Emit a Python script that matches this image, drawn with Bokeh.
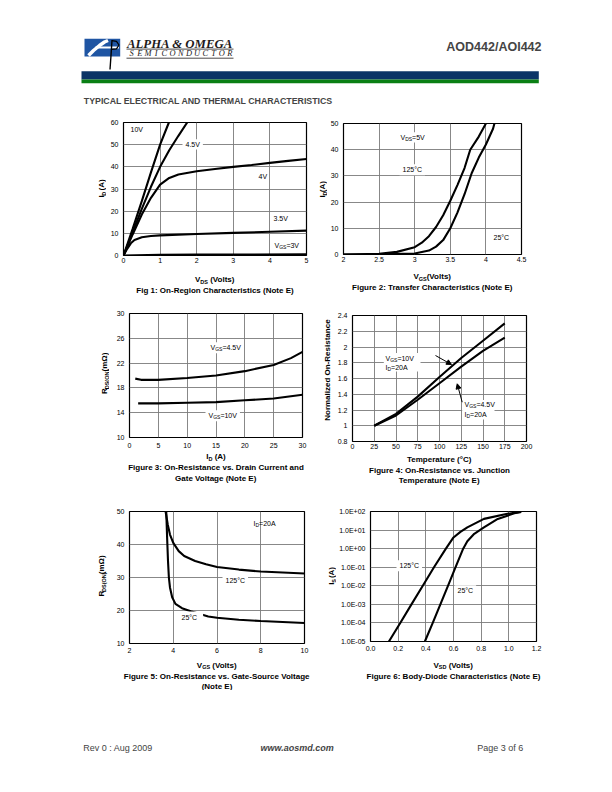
import numpy as np
from bokeh.plotting import figure
from bokeh.models import (Range1d, Label, FixedTicker, BoxAnnotation, Arrow, NormalHead,
                          CustomJSTickFormatter)
from bokeh.layouts import column, row
from bokeh.embed import file_html
from bokeh.resources import INLINE

FONT = "Liberation Sans"
SERIF = "Liberation Serif"

# ---------------- data ----------------
# Fig 1: On-region characteristics
f1_xticks = [0, 1, 2, 3, 4, 5]
f1_xlabels = ["0", "1", "2", "3", "4", "5"]
f1_yticks = [0, 10, 20, 30, 40, 50, 60]
f1_ylabels = ["0", "10", "20", "30", "40", "50", "60"]
f1_vds_10v = [0, 0.25, 0.5, 0.75, 1.0, 1.24]
f1_id_10v = [0, 12, 24.5, 37.5, 50, 60]
f1_vds_45v = [0, 0.25, 0.5, 0.75, 1.0, 1.25, 1.5, 1.74]
f1_id_45v = [0, 10.5, 21, 31, 40, 47.5, 54, 60]
f1_vds_4v = [0, 0.25, 0.5, 0.75, 1.0, 1.25, 1.5, 2.0, 2.5, 3.0, 3.5, 4.0, 4.5, 5.0]
f1_id_4v = [0, 9.5, 18.5, 26, 32, 35, 36.5, 38, 39, 40, 40.8, 41.8, 42.7, 43.5]
f1_vds_35v = [0, 0.1, 0.2, 0.3, 0.5, 0.75, 1.0, 2.0, 3.0, 4.0, 5.0]
f1_id_35v = [0, 3, 5.5, 7, 8.2, 8.8, 9.1, 9.7, 10.2, 10.7, 11.2]
f1_vds_3v = [0, 1.0, 2.0, 5.0]
f1_id_3v = [0, 0.3, 0.4, 0.5]

# Fig 2: Transfer characteristics
f2_xticks = [2, 2.5, 3, 3.5, 4, 4.5]
f2_xlabels = ["2", "2.5", "3", "3.5", "4", "4.5"]
f2_yticks = [0, 10, 20, 30, 40, 50]
f2_ylabels = ["0", "10", "20", "30", "40", "50"]
f2_vgs_125 = [2.0, 2.5, 2.75, 3.0, 3.1, 3.2, 3.3, 3.4, 3.5, 3.6, 3.7, 3.78, 3.9, 4.0]
f2_id_125 = [0, 0.3, 1.0, 2.8, 4.5, 7, 10.5, 15, 20.5, 26.5, 33, 40, 45, 50]
f2_vgs_25 = [2.0, 2.5, 3.0, 3.2, 3.3, 3.4, 3.5, 3.6, 3.7, 3.8, 3.9, 4.0, 4.1, 4.12]
f2_id_25 = [0, 0.05, 0.4, 1.5, 3, 5.5, 10, 16, 23, 31, 37, 42, 48, 50]

# Fig 3: On-resistance vs drain current
f3_xticks = [0, 5, 10, 15, 20, 25, 30]
f3_xlabels = ["0", "5", "10", "15", "20", "25", "30"]
f3_yticks = [10, 14, 18, 22, 26, 30]
f3_ylabels = ["10", "14", "18", "22", "26", "30"]
f3_id_45v = [1, 2, 5, 10, 15, 20, 25, 28, 30]
f3_r_45v = [19.5, 19.3, 19.3, 19.6, 20.0, 20.7, 21.7, 22.8, 23.8]
f3_id_10v = [1.5, 5, 10, 15, 20, 25, 30]
f3_r_10v = [15.5, 15.5, 15.6, 15.7, 16.0, 16.3, 16.9]

# Fig 4: Normalized on-resistance vs junction temperature
f4_xticks = [0, 25, 50, 75, 100, 125, 150, 175, 200]
f4_xlabels = ["0", "25", "50", "75", "100", "125", "150", "175", "200"]
f4_yticks = [0.8, 1.0, 1.2, 1.4, 1.6, 1.8, 2.0, 2.2, 2.4]
f4_ylabels = ["0.8", "1", "1.2", "1.4", "1.6", "1.8", "2", "2.2", "2.4"]
f4_temp = [25, 50, 75, 100, 125, 150, 175]
f4_r_10v = [1.0, 1.15, 1.37, 1.62, 1.86, 2.08, 2.3]
f4_r_45v = [1.0, 1.13, 1.33, 1.54, 1.75, 1.95, 2.12]

# Fig 5: On-resistance vs gate-source voltage
f5_xticks = [2, 4, 6, 8, 10]
f5_xlabels = ["2", "4", "6", "8", "10"]
f5_yticks = [10, 20, 30, 40, 50]
f5_ylabels = ["10", "20", "30", "40", "50"]
f5_vgs_125 = [3.65, 3.75, 3.85, 4.0, 4.25, 4.5, 5.0, 5.5, 6.0, 7.0, 8.0, 9.0, 10.0]
f5_r_125 = [50, 46, 43, 40.5, 38, 36.5, 35, 34, 33.2, 32.4, 31.8, 31.5, 31.2]
f5_vgs_25 = [3.68, 3.72, 3.76, 3.8, 3.85, 3.95, 4.1, 4.4, 4.8, 5.6, 6.0, 7.0, 8.0, 9.0, 10.0]
f5_r_25 = [50, 42, 35, 30, 27, 24, 22, 20.7, 19.8, 18.2, 17.8, 17.2, 16.8, 16.5, 16.2]

# Fig 6: Body-diode characteristics
f6_xticks = [0, 0.2, 0.4, 0.6, 0.8, 1.0, 1.2]
f6_xlabels = ["0.0", "0.2", "0.4", "0.6", "0.8", "1.0", "1.2"]
f6_yticks = [1e-5, 1e-4, 1e-3, 1e-2, 1e-1, 1e0, 1e1, 1e2]
f6_ylabels = ["1.0E-05", "1.0E-04", "1.0E-03", "1.0E-02", "1.0E-01", "1.0E+00", "1.0E+01", "1.0E+02"]
f6_vsd_125 = [0.133, 0.215, 0.296, 0.378, 0.459, 0.545, 0.60, 0.65, 0.70, 0.82, 0.99, 1.08]
f6_is_125 = [1e-5, 1e-4, 1e-3, 1e-2, 1e-1, 1.0, 4.0, 8.0, 14, 40, 75, 95]
f6_vsd_25 = [0.393, 0.45, 0.505, 0.56, 0.615, 0.67, 0.70, 0.75, 0.82, 0.92, 1.04, 1.09]
f6_is_25 = [1e-5, 1e-4, 1e-3, 1e-2, 1e-1, 1.0, 2.5, 6.3, 14, 40, 80, 95]

# ---------------- text metrics (Arial / Liberation Sans) ----------------
REG_W = {' ': 278, '(': 333, ')': 333, '+': 584, '-': 333, '.': 278, '=': 584, '/': 278, ':': 278,
         '°': 400, 'Ω': 768, 'A': 667, 'B': 667, 'C': 722, 'D': 722, 'E': 667, 'F': 611, 'G': 778,
         'I': 278, 'N': 722, 'O': 778, 'R': 722, 'S': 667, 'T': 611, 'V': 667,
         'a': 556, 'c': 500, 'd': 556, 'e': 556, 'f': 278, 'g': 556, 'h': 556, 'i': 222, 'k': 500,
         'l': 222, 'm': 833, 'n': 556, 'o': 556, 'p': 556, 'r': 333, 's': 500, 't': 278, 'u': 556,
         'v': 500, 'w': 722, 'y': 500, 'z': 500}
BOLD_W = {' ': 278, '(': 333, ')': 333, '-': 333, '.': 278, '=': 584, ':': 333, '°': 400, 'Ω': 768,
          'A': 722, 'B': 722, 'C': 722, 'D': 722, 'E': 667, 'F': 611, 'G': 778, 'I': 278, 'J': 556,
          'N': 722, 'O': 778, 'R': 722, 'S': 667, 'T': 611, 'V': 667,
          'a': 556, 'c': 556, 'd': 611, 'e': 556, 'f': 333, 'g': 611, 'h': 611, 'i': 278, 'k': 556,
          'l': 278, 'm': 889, 'n': 611, 'o': 611, 'p': 611, 'r': 389, 's': 556, 't': 333, 'u': 611,
          'v': 556, 'y': 556, 'z': 500}


def text_width(s, size, bold):
    tab = BOLD_W if bold else REG_W
    return sum(tab.get(ch, 556) for ch in s) * size / 1000.0


def ident(px, py):
    return float(px), float(py)


def white_box(p, conv, x0, y0, x1, y1):
    """White rectangle given in page pixels (used to clear grid behind a label)."""
    l, b = conv(x0, y1)
    r, t = conv(x1, y0)
    p.add_layout(BoxAnnotation(left=l, right=r, bottom=b, top=t, fill_color="white",
                               fill_alpha=1, line_color=None, line_alpha=0))


def rich(p, conv, px, py, pieces, bold=False, align="center", vertical=False, bg_pad=None):
    """Place text pieces (text, size, dy) at page position px, py (middle line)."""
    widths = [text_width(t, s, bold) for t, s, d in pieces]
    total = sum(widths)
    start = {"center": -total / 2.0, "left": 0.0, "right": -total}[align]
    if bg_pad is not None and not vertical:
        hmax = max(s for t, s, d in pieces)
        padx, pady = bg_pad
        white_box(p, conv, px + start - padx, py - 0.55 * hmax - pady,
                  px + start + total + padx, py + 0.6 * hmax + pady)
    pos = start
    for (t, s, d), w in zip(pieces, widths):
        lead = len(t) - len(t.lstrip(' '))
        off = text_width(' ' * lead, s, bold)
        txt = t.strip(' ')
        if vertical:
            x, y = conv(px + d, py - pos - off)
        else:
            x, y = conv(px + pos + off, py + d)
        lab = Label(x=x, y=y, text=txt, text_font=FONT, text_font_size=f"{s}px",
                    text_font_style="bold" if bold else "normal", text_align="left",
                    text_baseline="middle", angle=(np.pi / 2 if vertical else 0.0), text_color="black")
        p.add_layout(lab)
        pos += w


def textfig(x0, y0, x1, y1):
    """A blank figure whose data space is page pixels (y downward)."""
    f = figure(width=int(x1 - x0), height=int(y1 - y0), x_range=Range1d(x0, x1), y_range=Range1d(y1, y0),
               output_backend="svg", toolbar_location=None, title=None, min_border=0,
               x_axis_type=None, y_axis_type=None)
    f.outline_line_color = None
    f.background_fill_color = "white"
    f.border_fill_color = "white"
    return f


def tick_fmt(vals, labels):
    return CustomJSTickFormatter(args=dict(vals=list(vals), labels=list(labels)), code="""
        let best = 0, bd = Infinity;
        for (let i = 0; i < vals.length; i++) {
            const d = Math.abs(Math.log(Math.abs(vals[i]) + 1e-12) - Math.log(Math.abs(tick) + 1e-12)) + Math.abs(vals[i] - tick);
            if (d < bd) { bd = d; best = i; }
        }
        return labels[best];
    """)


def chart(box, frame, xr, yr, xt, xl, yt, yl, ylog=False, xstand=3, ystand=5):
    bx0, by0, bx1, by1 = box
    fx0, fy0, fx1, fy1 = frame
    p = figure(width=int(bx1 - bx0), height=int(by1 - by0), x_range=Range1d(*xr), y_range=Range1d(*yr),
               y_axis_type="log" if ylog else "linear", output_backend="svg",
               toolbar_location=None, title=None,
               min_border_left=int(fx0 - bx0), min_border_right=int(bx1 - fx1),
               min_border_top=int(fy0 - by0), min_border_bottom=int(by1 - fy1))
    p.background_fill_color = "white"
    p.border_fill_color = "white"
    p.outline_line_color = "black"
    p.outline_line_width = 1.2
    p.xaxis.ticker = FixedTicker(ticks=xt)
    p.yaxis.ticker = FixedTicker(ticks=yt)
    p.xgrid.ticker = FixedTicker(ticks=xt)
    p.ygrid.ticker = FixedTicker(ticks=yt)
    p.xaxis.formatter = tick_fmt(xt, xl)
    p.yaxis.formatter = tick_fmt(yt, yl)
    for ax in (p.xaxis, p.yaxis):
        ax.axis_line_color = None
        ax.major_tick_line_color = None
        ax.minor_tick_line_color = None
        ax.major_tick_out = 0
        ax.major_tick_in = 0
        ax.minor_tick_out = 0
        ax.minor_tick_in = 0
        ax.major_label_text_font = FONT
        ax.major_label_text_font_size = "7px"
        ax.major_label_text_color = "black"
    p.xaxis.major_label_standoff = xstand
    p.yaxis.major_label_standoff = ystand
    p.grid.grid_line_color = "#7a7a7a"
    p.grid.grid_line_width = 0.9
    p.grid.minor_grid_line_color = None

    def conv(px, py):
        x = xr[0] + (px - fx0) / (fx1 - fx0) * (xr[1] - xr[0])
        t = (fy1 - py) / (fy1 - fy0)
        if ylog:
            y = 10 ** (np.log10(yr[0]) + t * (np.log10(yr[1]) - np.log10(yr[0])))
        else:
            y = yr[0] + t * (yr[1] - yr[0])
        return float(x), float(y)
    return p, conv


LW = 2.1

# ---------------- header ----------------
hdr = textfig(0, 0, 612, 108)
hdr.quad(left=84, right=119.7, top=38.3, bottom=56, fill_color="#1f55a3", line_color=None)
hdr.line(x=[88, 93, 99, 104, 107.5], y=[55, 50, 45, 41.5, 40], line_color="white", line_width=3.5)
hdr.line(x=[95, 118.5], y=[47, 47], line_color="white", line_width=1.8)
hdr.line(x=[111.5, 110.5, 109.5], y=[39.5, 55, 69], line_color="black", line_width=1.4)
hdr.line(x=[111.5, 116, 118.5, 116, 111], y=[40.2, 40.8, 44.5, 48.3, 48.8], line_color="black", line_width=1.2)
hdr.add_layout(Label(x=126.5, y=43.0, text="ALPHA & OMEGA", text_font=SERIF, text_font_size="12.8px",
                     text_font_style="bold italic", text_color="#1e1a1a", text_baseline="middle"))
hdr.line(x=[126, 233], y=[48.6, 48.6], line_color="#1e1a1a", line_width=0.8)
semi = "SEMICONDUCTOR"
for i, ch in enumerate(semi):
    hdr.add_layout(Label(x=131 + i * 8.2, y=53.2, text=ch, text_font=SERIF, text_font_size="8.4px",
                         text_font_style="italic", text_color="#1e1a1a", text_align="center",
                         text_baseline="middle"))
hdr.line(x=[126, 233], y=[57.7, 57.7], line_color="#1e1a1a", line_width=0.8)
hdr.add_layout(Label(x=541, y=46, text="AOD442/AOI442", text_font=FONT, text_font_size="12.5px",
                     text_font_style="bold", text_align="right", text_baseline="middle"))
hdr.quad(left=81, right=538.3, top=70.7, bottom=79, fill_color="#0b3466", line_color=None)
hdr.quad(left=81, right=538.3, top=79, bottom=82.7, fill_color="#0a7f14", line_color=None)
hdr.add_layout(Label(x=83.3, y=100, text="TYPICAL ELECTRICAL AND THERMAL CHARACTERISTICS", text_font=FONT,
                     text_font_size="8.8px", text_font_style="bold", text_baseline="middle"))

# ---------------- Fig 1 ----------------
yl1 = textfig(0, 108, 106, 268)
p1, c1 = chart((106, 108, 316, 268), (123, 122, 306, 255), (0, 5), (0, 60),
               f1_xticks, f1_xlabels, f1_yticks, f1_ylabels, xstand=2)
cap1 = textfig(0, 268, 316, 300)
for xs, ys in [(f1_vds_10v, f1_id_10v), (f1_vds_45v, f1_id_45v), (f1_vds_4v, f1_id_4v),
               (f1_vds_35v, f1_id_35v), (f1_vds_3v, f1_id_3v)]:
    p1.line(xs, ys, line_color="black", line_width=LW)
rich(p1, c1, 130, 129, [("10V", 7, 0)], align="left")
rich(p1, c1, 185, 143.7, [("4.5V", 7, 0)], align="left", bg_pad=(3, 1))
rich(p1, c1, 258, 175.7, [("4V", 7, 0)], align="left")
rich(p1, c1, 273, 218, [("3.5V", 7, 0)], align="left")
rich(p1, c1, 274, 245, [("V", 7, 0), ("GS", 5, 1.8), ("=3V", 7, 0)], align="left")
rich(cap1, ident, 214.5, 279, [("V", 8, 0), ("DS", 5.5, 2), (" (Volts)", 8, 0)], bold=True)
rich(cap1, ident, 214.5, 290, [("Fig 1: On-Region Characteristics (Note E)", 8, 0)], bold=True)
rich(yl1, ident, 101, 188.5, [("I", 8, 0), ("D", 5.5, 2), (" (A)", 8, 0)], bold=True, vertical=True)

# ---------------- Fig 2 ----------------
yl2 = textfig(316, 108, 327, 266)
p2, c2 = chart((327, 108, 612, 266), (343, 123, 521, 254), (2, 4.5), (0, 50),
               f2_xticks, f2_xlabels, f2_yticks, f2_ylabels, xstand=2)
cap2 = textfig(316, 266, 612, 300)
p2.line(f2_vgs_125, f2_id_125, line_color="black", line_width=LW)
p2.line(f2_vgs_25, f2_id_25, line_color="black", line_width=LW)
rich(p2, c2, 400, 136.7, [("V", 7, 0), ("DS", 5, 1.8), ("=5V", 7, 0)], align="left", bg_pad=(2, 1))
rich(p2, c2, 402, 169, [("125°C", 7, 0)], align="left", bg_pad=(3, 1.5))
rich(p2, c2, 493, 236.7, [("25°C", 7, 0)], align="left", bg_pad=(3, 1.5))
rich(cap2, ident, 432, 276, [("V", 8, 0), ("GS", 5.5, 2), ("(Volts)", 8, 0)], bold=True)
rich(cap2, ident, 432, 287, [("Figure 2: Transfer Characteristics (Note E)", 8, 0)], bold=True)
rich(yl2, ident, 322, 188.5, [("I", 8, 0), ("D", 5.5, 2), ("(A)", 8, 0)], bold=True, vertical=True)

# ---------------- Fig 3 ----------------
yl3 = textfig(0, 300, 109, 451)
p3, c3 = chart((109, 300, 316, 451), (129, 313, 302, 437), (0, 30), (10, 30),
               f3_xticks, f3_xlabels, f3_yticks, f3_ylabels, xstand=5)
cap3 = textfig(0, 451, 316, 495)
p3.line(f3_id_45v, f3_r_45v, line_color="black", line_width=LW)
p3.line(f3_id_10v, f3_r_10v, line_color="black", line_width=LW)
rich(p3, c3, 210, 347, [("V", 7, 0), ("GS", 5, 1.8), ("=4.5V", 7, 0)], align="left", bg_pad=(3, 1.5))
rich(p3, c3, 208, 415, [("V", 7, 0), ("GS", 5, 1.8), ("=10V", 7, 0)], align="left", bg_pad=(3, 1.5))
rich(cap3, ident, 215.5, 456, [("I", 8, 0), ("D", 5.5, 2), (" (A)", 8, 0)], bold=True)
rich(cap3, ident, 215.5, 467, [("Figure 3: On-Resistance vs. Drain Current and", 8, 0)], bold=True)
rich(cap3, ident, 215.5, 477.5, [("Gate Voltage (Note E)", 8, 0)], bold=True)
rich(yl3, ident, 104, 375, [("R", 8, 0), ("DS(ON)", 5.5, 2), (" (mΩ)", 8, 0)], bold=True, vertical=True)

# ---------------- Fig 4 ----------------
yl4 = textfig(316, 300, 332, 454)
p4, c4 = chart((332, 300, 612, 454), (352, 315, 526, 441), (0, 200), (0.8, 2.4),
               f4_xticks, f4_xlabels, f4_yticks, f4_ylabels, xstand=2)
cap4 = textfig(316, 454, 612, 495)
p4.line(f4_temp, f4_r_10v, line_color="black", line_width=LW)
p4.line(f4_temp, f4_r_45v, line_color="black", line_width=LW)
white_box(p4, c4, 383.3, 352.5, 420, 371)
white_box(p4, c4, 461.7, 399.5, 494, 419)
rich(p4, c4, 385, 357.7, [("V", 7, 0), ("GS", 5, 1.8), ("=10V", 7, 0)], align="left")
rich(p4, c4, 385, 367, [("I", 7, 0), ("D", 5, 1.8), ("=20A", 7, 0)], align="left")
rich(p4, c4, 464, 404, [("V", 7, 0), ("GS", 5, 1.8), ("=4.5V", 7, 0)], align="left")
rich(p4, c4, 464, 414, [("I", 7, 0), ("D", 5, 1.8), ("=20A", 7, 0)], align="left")
ax0, ay0 = c4(435, 355)
ax1, ay1 = c4(451, 364)
p4.add_layout(Arrow(end=NormalHead(size=5, fill_color="black", line_color="black"),
                    x_start=ax0, y_start=ay0, x_end=ax1, y_end=ay1, line_width=1))
ax0, ay0 = c4(461.7, 401.7)
ax1, ay1 = c4(456.7, 383.3)
p4.add_layout(Arrow(end=NormalHead(size=5, fill_color="black", line_color="black"),
                    x_start=ax0, y_start=ay0, x_end=ax1, y_end=ay1, line_width=1))
rich(cap4, ident, 439, 459, [("Temperature (°C)", 8, 0)], bold=True)
rich(cap4, ident, 439, 469.5, [("Figure 4: On-Resistance vs. Junction", 8, 0)], bold=True)
rich(cap4, ident, 439, 480, [("Temperature (Note E)", 8, 0)], bold=True)
rich(yl4, ident, 327, 378, [("Normalized On-Resistance", 8, 0)], bold=True, vertical=True)

# ---------------- Fig 5 ----------------
yl5 = textfig(0, 495, 109, 658)
p5, c5 = chart((109, 495, 316, 658), (129, 511, 304, 643), (2, 10), (10, 50),
               f5_xticks, f5_xlabels, f5_yticks, f5_ylabels, xstand=4)
cap5 = textfig(0, 658, 316, 690)
p5.line(f5_vgs_125, f5_r_125, line_color="black", line_width=LW)
p5.line(f5_vgs_25, f5_r_25, line_color="black", line_width=LW)
rich(p5, c5, 253, 523, [("I", 7, 0), ("D", 5, 1.8), ("=20A", 7, 0)], align="left")
rich(p5, c5, 225, 580, [("125°C", 7, 0)], align="left", bg_pad=(3, 1.5))
rich(p5, c5, 181, 617.3, [("25°C", 7, 0)], align="left", bg_pad=(6, 2.5))
rich(cap5, ident, 216.5, 664.5, [("V", 8, 0), ("GS", 5.5, 2), (" (Volts)", 8, 0)], bold=True)
rich(cap5, ident, 216.5, 675.5, [("Figure 5: On-Resistance vs. Gate-Source Voltage", 8, 0)], bold=True)
rich(cap5, ident, 216.5, 685.5, [("(Note E)", 8, 0)], bold=True)
rich(yl5, ident, 101, 577, [("R", 8, 0), ("DS(ON)", 5.5, 2), (" (mΩ)", 8, 0)], bold=True, vertical=True)

# ---------------- Fig 6 ----------------
yl6 = textfig(316, 495, 336, 656)
p6, c6 = chart((336, 495, 612, 656), (370, 511, 536, 641), (0, 1.2), (1e-5, 1e2),
               f6_xticks, f6_xlabels, f6_yticks, f6_ylabels, ylog=True, xstand=4)
cap6 = textfig(316, 656, 612, 690)
p6.line(f6_vsd_125, f6_is_125, line_color="black", line_width=LW)
p6.line(f6_vsd_25, f6_is_25, line_color="black", line_width=LW)
rich(p6, c6, 399, 565, [("125°C", 7, 0)], align="left", bg_pad=(3, 1.5))
rich(p6, c6, 457, 590, [("25°C", 7, 0)], align="left", bg_pad=(3, 1.5))
rich(cap6, ident, 453, 664.5, [("V", 8, 0), ("SD", 5.5, 2), (" (Volts)", 8, 0)], bold=True)
rich(cap6, ident, 453, 675.5, [("Figure 6: Body-Diode Characteristics (Note E)", 8, 0)], bold=True)
rich(yl6, ident, 331, 576, [("I", 8, 0), ("S", 5.5, 2), (" (A)", 8, 0)], bold=True, vertical=True)

# ---------------- footer ----------------
ftr = textfig(0, 690, 612, 780)
ftr.add_layout(Label(x=82.7, y=747, text="Rev 0 : Aug 2009", text_font=FONT, text_font_size="9px",
                     text_baseline="middle"))
ftr.add_layout(Label(x=296.7, y=747, text="www.aosmd.com", text_font=FONT, text_font_size="9px",
                     text_font_style="bold italic", text_align="center", text_baseline="middle"))
ftr.add_layout(Label(x=476.7, y=747, text="Page 3 of 6", text_font=FONT, text_font_size="9px",
                     text_baseline="middle"))

blockA = row(column(row(yl1, p1), cap1), column(row(yl2, p2), cap2))
blockB = row(column(row(yl3, p3), cap3), column(row(yl4, p4), cap4))
blockC = row(column(row(yl5, p5), cap5), column(row(yl6, p6), cap6))
layout = column(hdr, blockA, blockB, blockC, ftr)
open("out.html", "w").write(file_html(layout, INLINE))
